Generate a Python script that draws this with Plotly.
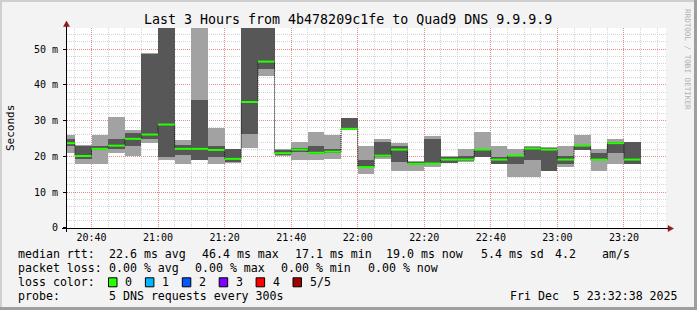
import pandas as pd
import plotly.graph_objects as go

# ---------------- data ----------------
DAY = "2025-12-05"
interval_start = ["20:30", "20:35", "20:40", "20:45", "20:50", "20:55",
                  "21:00", "21:05", "21:10", "21:15", "21:20", "21:25",
                  "21:30", "21:35", "21:40", "21:45", "21:50", "21:55",
                  "22:00", "22:05", "22:10", "22:15", "22:20", "22:25",
                  "22:30", "22:35", "22:40", "22:45", "22:50", "22:55",
                  "23:00", "23:05", "23:10", "23:15", "23:20"]
# sorted pings (ms): p1 (lowest), p2, median, p4, p5 (highest)
ping1 = [21.0, 18.0, 18.0, 21.0, 20.2, 23.8, 19.1, 18.0, 19.0, 18.0, 18.2, 22.4,
         42.6, 20.0, 19.1, 19.1, 19.3, 27.5, 15.2, 19.3, 15.9, 15.9, 17.0, 18.1,
         18.5, 19.7, 17.9, 14.1, 14.1, 15.8, 17.0, 21.8, 15.9, 18.0, 17.9]
ping2 = [23.0, 19.2, 21.8, 22.1, 23.0, 24.9, 19.8, 20.4, 19.1, 19.8, 18.5, 26.3,
         44.4, 20.4, 21.2, 20.8, 20.9, 27.6, 16.7, 19.8, 18.5, 17.6, 17.8, 18.2,
         18.8, 19.8, 18.0, 18.0, 18.9, 15.9, 18.0, 21.9, 19.0, 21.0, 18.0]
median = [23.7, 20.1, 22.1, 23.0, 24.9, 26.1, 28.9, 22.1, 22.1, 21.8, 19.3, 35.2,
          46.5, 20.9, 21.9, 21.0, 21.3, 27.7, 17.0, 20.2, 21.9, 17.9, 18.0, 19.1,
          19.1, 21.9, 19.1, 20.2, 22.2, 21.9, 19.1, 23.0, 19.1, 23.7, 19.1]
ping4 = [24.9, 23.0, 22.9, 24.9, 26.5, 48.7, 60.0, 23.2, 35.8, 23.0, 22.1, 60.0,
         60.0, 21.9, 22.4, 23.0, 22.1, 30.7, 19.1, 24.1, 23.0, 18.3, 24.9, 19.8,
         20.0, 22.1, 19.8, 20.2, 22.7, 22.4, 20.1, 23.0, 21.0, 24.1, 23.9]
ping5 = [26.0, 23.1, 26.0, 31.1, 27.3, 48.9, 62.0, 24.6, 62.0, 28.0, 22.2, 62.0,
         62.0, 22.1, 24.0, 26.8, 26.0, 30.8, 23.0, 24.9, 23.8, 18.8, 25.7, 20.1,
         22.0, 26.8, 22.9, 22.1, 22.8, 22.5, 23.0, 26.0, 22.1, 24.9, 24.0]
step_seconds = 300
x_window = ["20:32:38", "23:32:38"]
y_max = 55.9
y_tick_vals = [0, 10, 20, 30, 40, 50]
y_tick_text = ["0", "10 m", "20 m", "30 m", "40 m", "50 m"]
x_tick_labels = ["20:40", "21:00", "21:20", "21:40", "22:00", "22:20", "22:40", "23:00", "23:20"]
loss_labels = ["0", "1", "2", "3", "4", "5/5"]
loss_colors = ["#26ff00", "#00b8ff", "#0059ff", "#7e00ff", "#ff0000", "#a10000"]

# ---------------- geometry ----------------
W, H = 697, 310
L, R, T, B = 67, 666, 28, 228
FONT = "DejaVu Sans Mono"


def px(x):
    return (x - L) / (R - L)


def py(y):
    return (B - y) / (B - T)


starts = pd.to_datetime([f"{DAY} {s}" for s in interval_start])
step = pd.Timedelta(seconds=step_seconds)
centers = starts + step / 2
ends = starts + step

fig = go.Figure()

LIGHT = "#a2a2a2"
DARK = "#575757"

fig.add_trace(go.Bar(x=centers, base=ping1, y=[b - a for a, b in zip(ping1, ping5)],
                     width=step_seconds * 1000, marker_color=LIGHT, marker_line_width=0,
                     hoverinfo="skip"))
fig.add_trace(go.Bar(x=centers, base=ping2, y=[b - a for a, b in zip(ping2, ping4)],
                     width=step_seconds * 1000, marker_color=DARK, marker_line_width=0,
                     hoverinfo="skip"))

# thin step line of the median
fig.add_trace(go.Scatter(x=list(starts) + [ends[-1]], y=list(median) + [median[-1]],
                         mode="lines", line=dict(shape="hv", color="#111111", width=1, dash="1px,1px"),
                         hoverinfo="skip"))
# green loss-coloured median segments
gx, gy = [], []
for s, e, m in zip(starts, ends, median):
    gx += [s, e, None]
    gy += [m, m, None]
fig.add_trace(go.Scatter(x=gx, y=gy, mode="lines", line=dict(color=loss_colors[0], width=2),
                         hoverinfo="skip"))

fig.update_layout(
    width=W, height=H, showlegend=False, barmode="overlay", bargap=0,
    margin=dict(l=L, r=W - R, t=T, b=H - B, pad=0),
    paper_bgcolor="#f3f3f3", plot_bgcolor="#ffffff",
    font=dict(family=FONT, size=10, color="#000000"),
)
fig.update_xaxes(
    type="date", range=[f"{DAY} {x_window[0]}", f"{DAY} {x_window[1]}"],
    tickvals=[f"{DAY} {t}" for t in x_tick_labels], ticktext=x_tick_labels,
    ticks="", showline=False, zeroline=False,
    showgrid=True, gridcolor="rgba(255,0,0,0.35)", griddash="1px,1px", gridwidth=1,
    minor=dict(dtick=step_seconds * 1000, tick0=f"{DAY} 20:00", showgrid=True,
               gridcolor="#d4d4d4", griddash="1px,1px", gridwidth=1),
    tickfont=dict(family=FONT, size=10), ticklabelstandoff=2,
)
fig.update_yaxes(
    range=[-0.03, y_max], tickvals=y_tick_vals, ticktext=y_tick_text,
    ticks="outside", ticklen=3, tickcolor="#000000", showline=False, zeroline=False,
    showgrid=True, gridcolor="rgba(255,0,0,0.35)", griddash="1px,1px", gridwidth=1,
    minor=dict(dtick=2, showgrid=True, gridcolor="#d4d4d4", griddash="1px,1px", gridwidth=1),
    tickfont=dict(family=FONT, size=10), ticklabelstandoff=3,
)

shapes = []
# 3D frame
shapes.append(dict(type="rect", xref="paper", yref="paper", x0=px(0), x1=px(W), y0=py(0), y1=py(2),
                   fillcolor="#cfcfcf", line_width=0, layer="below"))
shapes.append(dict(type="rect", xref="paper", yref="paper", x0=px(0), x1=px(2), y0=py(0), y1=py(H),
                   fillcolor="#cfcfcf", line_width=0, layer="below"))
shapes.append(dict(type="rect", xref="paper", yref="paper", x0=px(W - 3), x1=px(W), y0=py(0), y1=py(H),
                   fillcolor="#9e9e9e", line_width=0, layer="below"))
shapes.append(dict(type="rect", xref="paper", yref="paper", x0=px(0), x1=px(W), y0=py(H - 3), y1=py(H),
                   fillcolor="#9e9e9e", line_width=0, layer="below"))
# axes
shapes.append(dict(type="line", xref="paper", yref="paper", x0=px(62), x1=px(669), y0=py(228.5), y1=py(228.5),
                   line=dict(color="#000000", width=1)))
shapes.append(dict(type="line", xref="paper", yref="paper", x0=px(66.5), x1=px(66.5), y0=py(232), y1=py(25),
                   line=dict(color="#000000", width=1)))
ARROW = "#8b1a1a"
shapes.append(dict(type="path", xref="paper", yref="paper",
                   path=f"M {px(668)} {py(225.5)} L {px(673.5)} {py(228.5)} L {px(668)} {py(231.5)} Z",
                   fillcolor=ARROW, line=dict(color=ARROW, width=0.5)))
shapes.append(dict(type="path", xref="paper", yref="paper",
                   path=f"M {px(63.5)} {py(26.5)} L {px(66.5)} {py(21)} L {px(69.5)} {py(26.5)} Z",
                   fillcolor=ARROW, line=dict(color=ARROW, width=0.5)))

ann = []


def text(x, y, s, size=11.6, anchor="left", color="#000000", angle=0):
    ann.append(dict(xref="paper", yref="paper", x=px(x), y=py(y), text=s, showarrow=False,
                    xanchor=anchor, yanchor="middle", textangle=angle,
                    font=dict(family=FONT, size=size, color=color)))


text(348, 19, "Last 3 Hours from 4b478209c1fe to Quad9 DNS 9.9.9.9", size=13.3, anchor="center")
text(10, 128, "Seconds", size=11, anchor="center", angle=-90)
text(688, 59, "RRDTOOL / TOBI OETIKER", size=7.6, anchor="center", color="#b0b0b0", angle=90)

# legend rows
y1, y2, y3, y4 = 254.3, 268.3, 282.3, 296
text(16, y1, "median rtt:")
for x, s in [(107, "22.6 ms avg"), (200, "46.4 ms max"), (293.3, "17.1 ms min"),
             (384.3, "19.0 ms now"), (479, "5.4 ms sd"), (553.3, "4.2"), (600, "am/s")]:
    text(x, y1, s)
text(16, y2, "packet loss:")
for x, s in [(107, "0.00 % avg"), (193.3, "0.00 % max"), (279.3, "0.00 % min"), (365.7, "0.00 % now")]:
    text(x, y2, s)
text(16, y3, "loss color:")
for i, (lab, col) in enumerate(zip(loss_labels, loss_colors)):
    x0 = 108.5 + i * 36.9
    shapes.append(dict(type="rect", xref="paper", yref="paper", x0=px(x0), x1=px(x0 + 8.5),
                       y0=py(y3 - 4.5), y1=py(y3 + 4.5), fillcolor=col,
                       line=dict(color="#000000", width=1)))
    text(x0 + 14.5, y3, lab)
text(16, y4, "probe:")
text(107.3, y4, "5 DNS requests every 300s")
text(680, y4, "Fri Dec  5 23:32:38 2025", anchor="right")

fig.update_layout(shapes=shapes, annotations=ann)
fig.write_html("out.html")
